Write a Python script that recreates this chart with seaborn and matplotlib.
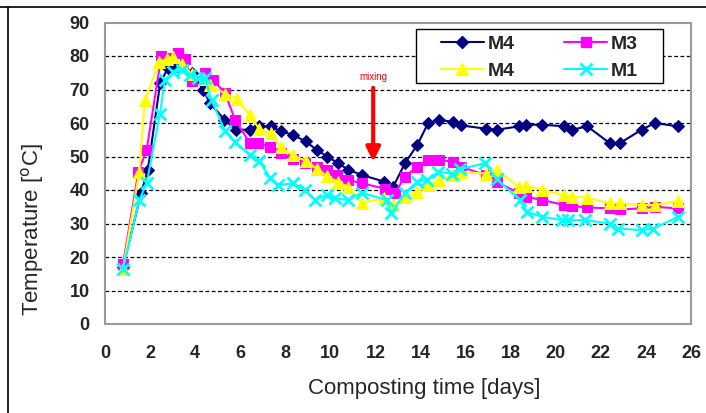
import matplotlib
matplotlib.use("Agg")
import matplotlib.pyplot as plt
import seaborn as sns
import pandas as pd
from matplotlib.lines import Line2D
from matplotlib.patches import Rectangle

# ---- data ----
m4_days = [0.8, 1.6, 1.9, 2.45, 2.8, 3.2, 3.85, 4.35, 4.65, 5.3, 5.8, 6.43, 6.85, 7.36, 7.8,
           8.33, 8.9, 9.39, 9.86, 10.35, 10.8, 11.39, 12.38, 12.79, 13.31, 13.86, 14.34, 14.83,
           15.45, 15.78, 16.9, 17.38, 18.38, 18.68, 19.4, 20.38, 20.73, 21.4, 22.39, 22.85,
           23.81, 24.4, 25.41]
m4_temp = [17, 39, 46, 72, 76.5, 77, 75, 70, 66, 61, 58, 58, 59, 59, 57.5,
           56.5, 54.5, 52, 50, 48, 46, 44.5, 42.5, 41, 48, 53.5, 60, 61,
           60.3, 59.3, 58.3, 58, 59, 59.5, 59.5, 59, 58, 59, 54, 54,
           58, 60, 59]

m3_days = [0.8, 1.48, 1.85, 2.5, 2.8, 3.25, 3.55, 3.85, 4.44, 4.8, 5.32, 5.77, 6.43, 6.8, 7.32,
           7.8, 8.36, 8.87, 9.39, 9.84, 10.3, 10.8, 11.39, 12.42, 12.85, 13.31, 13.86, 14.34,
           14.83, 15.45, 15.78, 16.9, 17.38, 18.38, 18.68, 19.4, 20.38, 20.73, 21.4, 22.39,
           22.85, 23.81, 24.4, 25.41]
m3_temp = [17.8, 45.4, 52, 80, 79.5, 81, 79, 72.5, 74.8, 72.8, 69, 61, 54, 54, 52.8,
           51, 49.4, 48, 47, 46, 44.4, 43, 42, 40.4, 39, 44, 47, 49,
           49, 48.4, 47, 44.4, 42.4, 39, 38, 37, 35.5, 35.2, 34.8, 34.5,
           34.2, 34.5, 35, 34.5]

m4b_days = [0.8, 1.52, 1.77, 2.41, 2.74, 3.03, 3.4, 3.85, 4.4, 4.66, 5.32, 5.84, 6.43, 6.85,
            7.36, 7.8, 8.33, 8.92, 9.39, 9.86, 10.35, 10.8, 11.39, 12.38, 12.79, 13.31, 13.86,
            14.34, 14.83, 15.45, 15.78, 16.9, 17.38, 18.38, 18.68, 19.4, 20.38, 20.73, 21.4,
            22.39, 22.85, 23.81, 24.4, 25.41]
m4b_temp = [16.5, 45.4, 66.8, 78.3, 79.2, 79.7, 77.7, 74.5, 73, 71.3, 68.8, 67.3, 62.3, 58.1,
            56.9, 52.7, 50.4, 48.7, 46.4, 44.1, 42.4, 40.9, 36.2, 37.5, 35.5, 38, 39.5,
            41.5, 42.9, 44.4, 45.4, 44.9, 46.1, 40.8, 41.2, 40, 38.5, 38, 37.7,
            36, 36, 35.5, 35.5, 36.7]

m1_days = [0.8, 1.52, 1.85, 2.44, 2.66, 3.03, 3.4, 3.77, 4.14, 4.44, 4.73, 5.32, 5.77, 6.43,
           6.85, 7.32, 7.69, 8.36, 8.87, 9.32, 9.84, 10.2, 10.8, 11.39, 12.5, 12.7, 13.31,
           13.83, 14.27, 14.79, 15.38, 15.75, 16.86, 17.38, 18.41, 18.71, 19.38, 20.26, 20.55,
           21.3, 22.4, 22.77, 23.81, 24.33, 25.43]
m1_temp = [16.5, 37, 42, 62.8, 72.8, 75.2, 75.7, 74.3, 73.3, 73.3, 66.8, 57.6, 54.4, 50.4,
           48.6, 43.6, 41.5, 42, 40, 37, 38.5, 37.5, 37, 39.2, 37, 33, 39,
           42.4, 43, 45.4, 44.9, 46.2, 48, 43.2, 37, 33.5, 32, 31, 31,
           31, 30, 28.5, 28, 28.5, 32]

series_labels = ["M4", "M3", "M4", "M1"]
x_ticks = list(range(0, 27, 2))
y_ticks = list(range(0, 91, 10))
mix_day = 11.9

# ---- style ----
sns.set_theme(style="white")
plt.rcParams["font.family"] = ["Liberation Sans", "DejaVu Sans"]

fig = plt.figure(figsize=(7.06, 4.13), dpi=100)
ax = fig.add_axes([105 / 706, 1 - 324 / 413, 586 / 706, 301.5 / 413])

styles = [
    dict(color="#000080", marker="D", markersize=6.5, mec="#000080"),
    dict(color="#FF00FF", marker="s", markersize=7.5, mec="#FF00FF"),
    dict(color="#FFFF00", marker="^", markersize=8.5, mec="#FFFF00"),
    dict(color="#00FFFF", marker="x", markersize=8.5, mew=2, mec="#00FFFF"),
]
data = [(m4_days, m4_temp), (m3_days, m3_temp), (m4b_days, m4b_temp), (m1_days, m1_temp)]
for (xd, yd), st in zip(data, styles):
    df = pd.DataFrame({"day": xd, "temp": yd})
    sns.lineplot(data=df, x="day", y="temp", ax=ax, sort=False, linewidth=1.5,
                 legend=False, **st)

ax.set_xlim(0, 26)
ax.set_ylim(0, 90)
ax.set_xticks(x_ticks)
ax.set_yticks(y_ticks)
for yv in y_ticks[1:-1]:
    ax.axhline(yv, color="black", linestyle=(0, (3, 2)), linewidth=0.9, zorder=0)

for s in ax.spines.values():
    s.set_color("#9a9a9a")
    s.set_linewidth(1.5)
ax.tick_params(axis="both", which="both", direction="out", length=5, width=1,
               color="#9a9a9a", labelsize=13)
ax.tick_params(axis="x", pad=10)
ax.tick_params(axis="y", pad=6)
for t in ax.get_xticklabels() + ax.get_yticklabels():
    t.set_fontweight("bold")

ax.set_xlabel("Composting time [days]", fontsize=16)
ax.set_ylabel("Temperature [$^{\\mathrm{o}}$C]", fontsize=16)
ax.xaxis.set_label_coords((424 - 105) / 586, (324 - 378) / 301.5)
ax.yaxis.set_label_coords((46 - 105) / 586, (324 - 230) / 301.5)

# mixing annotation
ax.text(mix_day, 73.6, "mixing", color="red", fontsize=7, ha="center", va="center")
ax.annotate("", xy=(mix_day, 48.5), xytext=(mix_day, 70.5),
            arrowprops=dict(arrowstyle="-|>,head_width=0.35,head_length=0.7",
                            color="red", lw=3, shrinkA=0, shrinkB=0))

# legend (rows: M4, M3 / M4, M1)
handles = [Line2D([0], [0], linewidth=1.5, label=lab, **st)
           for st, lab in zip(styles, series_labels)]
order = [0, 2, 1, 3]
leg = ax.legend([handles[i] for i in order], [series_labels[i] for i in order],
                ncol=2, loc="upper left", bbox_to_anchor=((441 - 105) / 586, (324 - 35) / 301.5),
                frameon=False, borderpad=0, borderaxespad=0,
                prop={"weight": "bold", "size": 14}, handlelength=2.2,
                columnspacing=2.55, labelspacing=0.5, handletextpad=0.2)
ax.add_patch(Rectangle(((416 - 105) / 586, (324 - 83) / 301.5), (663 - 416) / 586, 54 / 301.5,
                       transform=ax.transAxes, facecolor="white", edgecolor="black",
                       linewidth=1.0, zorder=4))
leg.set_zorder(5)

# outer frame lines (top and left)
fig.add_artist(Line2D([0, 1], [1 - 7 / 413, 1 - 7 / 413], color="black", lw=1.2,
                      transform=fig.transFigure))
fig.add_artist(Line2D([8 / 706, 8 / 706], [0, 1 - 7 / 413], color="black", lw=1.2,
                      transform=fig.transFigure))

fig.savefig("out.png", dpi=100)
